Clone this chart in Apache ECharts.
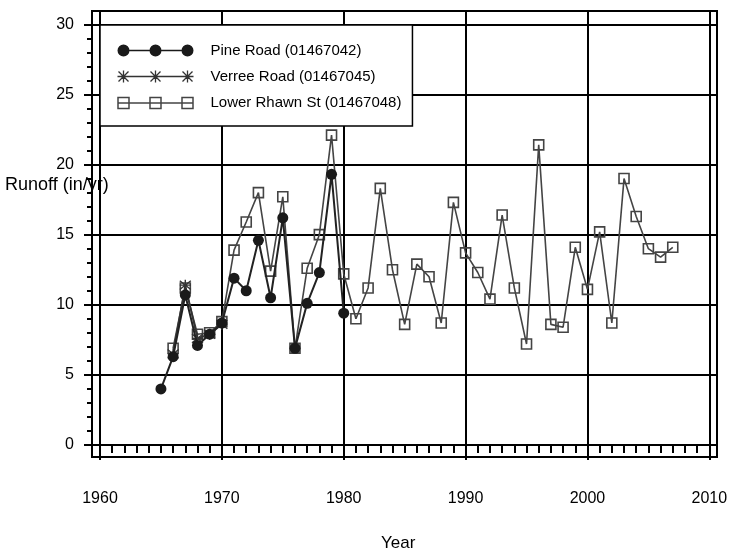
<!DOCTYPE html>
<html>
<head>
<meta charset="utf-8">
<script src="https://cdn.jsdelivr.net/npm/echarts@6/dist/echarts.min.js"></script>
<style>
  html, body { margin: 0; padding: 0; background: #fff; }
  #chart { width: 731px; height: 555px; }
</style>
</head>
<body>
<div id="chart"></div>
<script>
// data
const pineYears = [1965, 1966, 1967, 1968, 1969, 1970, 1971, 1972, 1973, 1974, 1975, 1976, 1977, 1978, 1979, 1980];
const pineRunoff = [4.0, 6.3, 10.7, 7.1, 7.9, 8.7, 11.9, 11.0, 14.6, 10.5, 16.2, 6.9, 10.1, 12.3, 19.3, 9.4];

const verreeYears = [1966, 1967, 1968, 1969, 1970];
const verreeRunoff = [6.5, 11.4, 7.6, 7.9, 8.6];

const rhawnYears = [1966, 1967, 1968, 1969, 1970, 1971, 1972, 1973, 1974, 1975, 1976, 1977, 1978, 1979, 1980,
  1981, 1982, 1983, 1984, 1985, 1986, 1987, 1988, 1989, 1990, 1991, 1992, 1993, 1994, 1995, 1996, 1997, 1998,
  1999, 2000, 2001, 2002, 2003, 2004, 2005, 2006, 2007];
const rhawnRunoff = [6.9, 11.2, 7.9, 8.0, 8.8, 13.9, 15.9, 18.0, 12.4, 17.7, 6.9, 12.6, 15.0, 22.1, 12.2,
  9.0, 11.2, 18.3, 12.5, 8.6, 12.9, 12.0, 8.7, 17.3, 13.7, 12.3, 10.4, 16.4, 11.2, 7.2, 21.4, 8.6, 8.4,
  14.1, 11.1, 15.2, 8.7, 19.0, 16.3, 14.0, 13.4, 14.1];

const seriesNames = ['Pine Road (01467042)', 'Verree Road (01467045)', 'Lower Rhawn St (01467048)'];

const xMajor = [1960, 1970, 1980, 1990, 2000, 2010];
const xMinor = [];
for (let y = 1960; y <= 2010; y++) xMinor.push(y);
const yMajor = [0, 5, 10, 15, 20, 25, 30];
const yMinor = [];
for (let v = 0; v <= 30; v++) yMinor.push(v);

const font = 'Liberation Sans, Arial, sans-serif';

function pairs(xs, ys) {
  return xs.map((x, i) => [x, ys[i]]);
}

// legend icons: three markers joined by a line
const circleIcon = 'path://M0,6A6,6 0 1,1 12,6A6,6 0 1,1 0,6Z' +
  'M32,6A6,6 0 1,1 44,6A6,6 0 1,1 32,6Z' +
  'M64,6A6,6 0 1,1 76,6A6,6 0 1,1 64,6Z' +
  'M11,5.3L33,5.3L33,6.7L11,6.7ZM43,5.3L65,5.3L65,6.7L43,6.7Z';
const starIcon = 'path://M0,6L76,6M6,0L6,12M1,1L11,11M1,11L11,1M38,0L38,12M33,1L43,11M33,11L43,1' +
  'M70,0L70,12M65,1L75,11M65,11L75,1';
const squareIcon = 'path://M0,6L76,6M0.5,0.5L11.5,0.5L11.5,11.5L0.5,11.5ZM32.5,0.5L43.5,0.5L43.5,11.5L32.5,11.5Z' +
  'M64.5,0.5L75.5,0.5L75.5,11.5L64.5,11.5Z';
const starSymbol = 'path://M0,-5L0,5M-5,-4L5,4M-5,4L5,-4M-5,0L5,0';

let myChart = echarts.init(document.getElementById('chart'));

const tickText = { color: '#000', fontSize: 16, fontFamily: font };

myChart.setOption({
  animation: false,
  grid: {
    left: 92, top: 11, right: 14, bottom: 98,
    show: true, borderColor: '#000', borderWidth: 2
  },
  legend: {
    orient: 'vertical',
    left: 100, top: 25,
    backgroundColor: '#fff',
    borderColor: '#000',
    borderWidth: 1.5,
    borderRadius: 0,
    padding: [18, 11, 15, 15],
    itemWidth: 76,
    itemHeight: 12,
    itemGap: 10,
    textStyle: { color: '#000', fontSize: 15, fontFamily: font, padding: [0, 0, 0, 12] },
    data: [
      { name: seriesNames[0], icon: circleIcon, itemStyle: { color: '#1a1a1a', borderWidth: 0 } },
      { name: seriesNames[1], icon: starIcon, itemStyle: { color: 'none', borderColor: '#333', borderWidth: 1.3 } },
      { name: seriesNames[2], icon: squareIcon, itemStyle: { color: 'none', borderColor: '#444', borderWidth: 1.5 } }
    ]
  },
  xAxis: [
    {
      type: 'value', min: 1959.344, max: 2010.63, position: 'bottom',
      axisLine: { show: false },
      axisTick: { show: true, customValues: xMajor, length: 15, lineStyle: { color: '#000', width: 2 } },
      axisLabel: { customValues: xMajor, margin: 34, formatter: v => String(v), ...tickText },
      splitLine: { show: true, lineStyle: { color: '#000', width: 2 } }
    },
    {
      type: 'value', min: 1959.344, max: 2010.63, position: 'bottom',
      axisLine: { show: false },
      axisTick: { show: true, customValues: xMinor, length: 8, lineStyle: { color: '#000', width: 2 } },
      axisLabel: { show: false },
      splitLine: { show: false }
    }
  ],
  yAxis: [
    {
      type: 'value', min: -0.856, max: 30.95, position: 'left',
      axisLine: { show: false },
      axisTick: { show: true, customValues: yMajor, length: 8, lineStyle: { color: '#000', width: 2 } },
      axisLabel: { customValues: yMajor, margin: 18, ...tickText },
      splitLine: { show: true, lineStyle: { color: '#000', width: 2 } }
    },
    {
      type: 'value', min: -0.856, max: 30.95, position: 'left',
      axisLine: { show: false },
      axisTick: { show: true, customValues: yMinor, length: 5, lineStyle: { color: '#000', width: 2 } },
      axisLabel: { show: false },
      splitLine: { show: false }
    }
  ],
  graphic: [
    {
      type: 'text', left: 5, top: 176, z: 10,
      style: { text: 'Runoff (in/yr)', fill: '#000', fontSize: 18, fontFamily: font }
    },
    {
      type: 'text', left: 381, top: 535, z: 10,
      style: { text: 'Year', fill: '#000', fontSize: 17, fontFamily: font }
    }
  ],
  series: [
    {
      name: seriesNames[2],
      type: 'line',
      data: pairs(rhawnYears, rhawnRunoff),
      symbol: 'rect',
      symbolSize: 10,
      itemStyle: { color: 'none', borderColor: '#444', borderWidth: 1.6 },
      lineStyle: { color: '#444', width: 1.6 },
      z: 2
    },
    {
      name: seriesNames[1],
      type: 'line',
      data: pairs(verreeYears, verreeRunoff),
      symbol: starSymbol,
      symbolSize: 11,
      itemStyle: { color: 'none', borderColor: '#333', borderWidth: 1.4 },
      lineStyle: { color: '#333', width: 1.8 },
      z: 3
    },
    {
      name: seriesNames[0],
      type: 'line',
      data: pairs(pineYears, pineRunoff),
      symbol: 'circle',
      symbolSize: 11,
      itemStyle: { color: '#1a1a1a' },
      lineStyle: { color: '#222', width: 2 },
      z: 4
    }
  ]
});

window.addEventListener('resize', () => {
  if (myChart) {
    myChart.resize();
  }
});
</script>
</body>
</html>
